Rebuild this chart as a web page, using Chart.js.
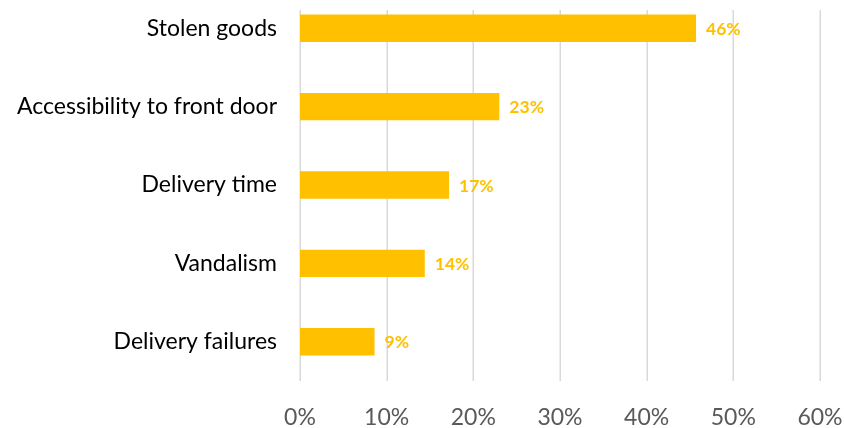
<!DOCTYPE html>
<html>
<head>
<meta charset="utf-8">
<script src="https://cdn.jsdelivr.net/npm/chart.js@4.4.1/dist/chart.umd.min.js"></script>
<style>
  html, body { margin: 0; padding: 0; background: #ffffff; overflow: hidden; }
  #wrap { position: relative; width: 845px; height: 449px; margin-top: -21px; }
</style>
</head>
<body>
<div id="wrap"><canvas id="chart"></canvas></div>
<script>
// Share of respondents citing each concern (%)
const categories = ["Stolen goods", "Accessibility to front door", "Delivery time", "Vandalism", "Delivery failures"];
const shares = [45.7, 23.0, 17.2, 14.4, 8.6];
const xTicks = [0, 10, 20, 30, 40, 50, 60];

const BAR = "#FFC000";
const GRID = "#D9D9D9";
const FONT = "Lato, 'Open Sans', sans-serif";

// Vertical gridlines, starting a little below the top edge of the page
const gridPlugin = {
  id: "vgrid",
  beforeDatasetsDraw(chart) {
    const { ctx, chartArea, scales } = chart;
    const x = scales.x;
    ctx.save();
    ctx.strokeStyle = GRID;
    ctx.lineWidth = 1.5;
    xTicks.forEach(v => {
      const px = Math.round(x.getPixelForValue(v)) + 0.25;
      ctx.beginPath();
      ctx.moveTo(px, 31);
      ctx.lineTo(px, chartArea.bottom);
      ctx.stroke();
    });
    ctx.restore();
  }
};

// Value labels at the end of each bar
const valueLabels = {
  id: "valueLabels",
  afterDatasetsDraw(chart) {
    const { ctx } = chart;
    const meta = chart.getDatasetMeta(0);
    ctx.save();
    ctx.fillStyle = BAR;
    ctx.font = "bold 17.5px " + FONT;
    ctx.textAlign = "left";
    ctx.textBaseline = "middle";
    meta.data.forEach((bar, i) => {
      ctx.fillText(Math.round(shares[i]) + "%", bar.x + 10, bar.y + 1);
    });
    ctx.restore();
  }
};

new Chart(document.getElementById("chart"), {
  type: "bar",
  data: {
    labels: categories,
    datasets: [{
      data: shares,
      backgroundColor: BAR,
      borderWidth: 0,
      categoryPercentage: 1,
      barPercentage: 0.35
    }]
  },
  options: {
    indexAxis: "y",
    responsive: true,
    maintainAspectRatio: false,
    animation: false,
    layout: { padding: { top: 10, right: 25, left: 0, bottom: 0 } },
    plugins: { legend: { display: false }, tooltip: { enabled: false } },
    scales: {
      x: {
        min: 0,
        max: 60,
        afterBuildTicks: s => { s.ticks = xTicks.map(v => ({ value: v })); },
        afterFit: s => { s.height = 47; s.paddingLeft = 0; s.paddingRight = 0; },
        grid: { display: false, drawTicks: false },
        border: { display: false },
        ticks: {
          callback: v => v + "%",
          color: "#595959",
          font: { family: FONT, size: 23 },
          padding: 23,
          maxRotation: 0
        }
      },
      y: {
        afterFit: s => { s.width = 300; s.paddingTop = 0; s.paddingBottom = 0; },
        grid: { display: false, drawTicks: false },
        border: { display: false },
        ticks: {
          color: "#000000",
          font: { family: FONT, size: 23 },
          padding: 23
        }
      }
    }
  },
  plugins: [gridPlugin, valueLabels]
});
</script>
</body>
</html>
